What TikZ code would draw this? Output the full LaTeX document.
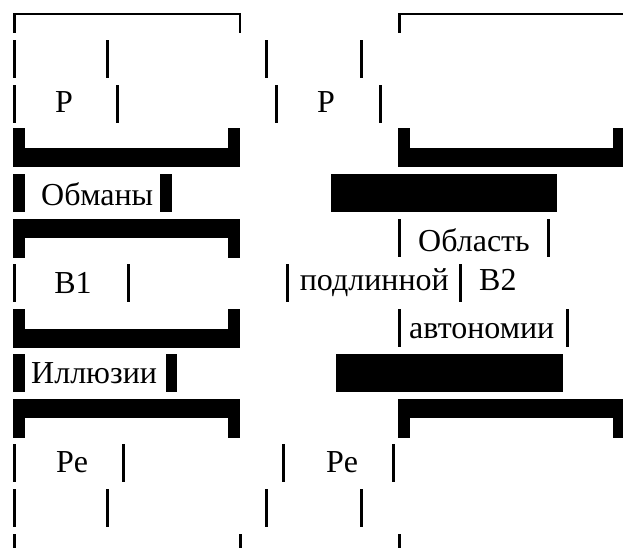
\documentclass[tikz,border=0pt]{standalone}
\usepackage{fontspec}
\setmainfont{Liberation Serif}
\usetikzlibrary{positioning}

\begin{document}
\begin{tikzpicture}[x=1pt, y=-1pt,
  word/.style={inner sep=0pt, font=\fontsize{32}{38}\selectfont}]
  \useasboundingbox (0,0) rectangle (623,548);
  % thin bars
  \foreach \x/\t in {13/40, 106/40, 265/40, 360/40,
                     13/85, 116/85, 275/85, 379/85,
                     398/219, 547/219,
                     13/264, 127/264, 286/264, 459/264,
                     398/309, 566/309,
                     13/444, 122/444, 282/444, 392/444,
                     13/489, 106/489, 265/489, 360/489}
    \fill (\x,\t) rectangle ++(2.5,38);
  \foreach \x in {13, 239, 398}
    \fill (\x,534) rectangle ++(2.5,14);
  % top corners
  \fill (13,13) rectangle (241,15.5);
  \fill (13,13) rectangle (15.5,33);
  \fill (238.5,13) rectangle (241,33);
  \fill (398,13) rectangle (623,15.5);
  \fill (398,13) rectangle (400.5,33);
  % heavy brackets
  \foreach \a/\b/\t/\s in {13/240/128/20, 13/240/219/0, 13/240/309/20, 13/240/399/0,
                           398/625/128/20, 398/625/399/0} {
    \fill (\a,\t) rectangle ++(12,39);
    \fill (\b,\t) rectangle ++(-12,39);
    \fill (\a,\t+\s) rectangle ++(\b-\a,19);
  }
  % heavy blocks
  \fill (13,174) rectangle ++(12,38);
  \fill (160,174) rectangle ++(12,38);
  \fill (331,174) rectangle (557,212);
  \fill (13,354) rectangle ++(12,38);
  \fill (166,354) rectangle ++(11,38);
  \fill (336,354) rectangle (563,392);
  % texts
  \node[word, anchor=base] (p1) at (64,113) {P};
  \node[word, anchor=base] (p2) at (326,113) {P};
  \node[word, anchor=base west] (obmany) at (41,205) {Обманы};
  \node[word, anchor=base west] (oblast) at (418,251) {Область};
  \node[word, anchor=base] (b1) at (73,293) {B1};
  \node[word, anchor=base east] (podl) at (449,290) {подлинной};
  \node[word, anchor=base west] (b2) at (479,290) {B2};
  \node[word, anchor=base west] (avt) at (409,338) {автономии};
  \node[word, anchor=base west] (illuz) at (31,383) {Иллюзии};
  \node[word, anchor=base] (pe1) at (72,472) {Pe};
  \node[word, anchor=base] (pe2) at (342,472) {Pe};
\end{tikzpicture}
\end{document}
